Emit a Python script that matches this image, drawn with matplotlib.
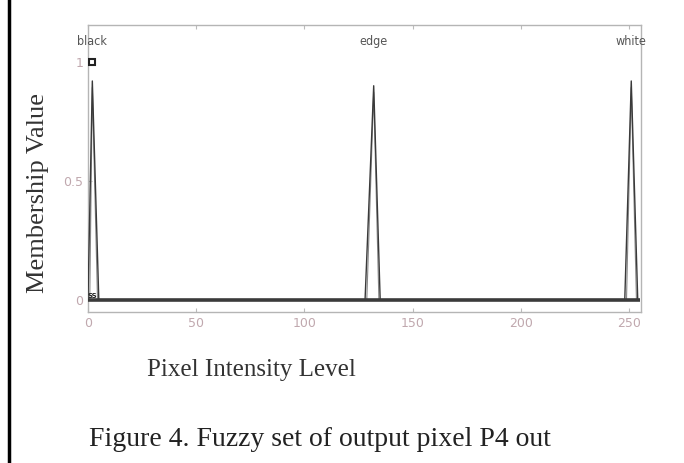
import matplotlib
matplotlib.use("Agg")
import matplotlib.pyplot as plt

# membership functions: name, left foot, peak, right foot, peak height
names = ["black", "edge", "white"]
left_feet = [0, 128, 248]
peaks = [2, 132, 251]
right_feet = [5, 135, 254]
heights = [0.92, 0.90, 0.92]

xticks = [0, 50, 100, 150, 200, 250]
yticks = [0, 0.5, 1]
ytick_labels = ["0", "0.5", "1"]

fig = plt.figure(figsize=(6.84, 4.63), dpi=100)
ax = fig.add_axes([88 / 684, 1 - 312 / 463, (641 - 88) / 684, (312 - 25) / 463])

line_col = "#3a3a3a"
ax.plot([0, 255], [0, 0], color=line_col, lw=2.6, solid_capstyle="butt", zorder=3)
for a, b, c, h in zip(left_feet, peaks, right_feet, heights):
    ax.plot([a, b, c], [0, h, 0], color=line_col, lw=1.0, zorder=3)
    ax.plot([a + 0.8, b, c - 0.6], [0, h * 0.97, 0], color="#888888", lw=0.8, zorder=2)

# names above each set
for n, b in zip(names, peaks):
    ax.text(b, 1.06, n, ha="center", va="bottom", fontsize=9, color="#555555",
            family="DejaVu Sans", stretch="condensed")

# small selection marker of the MATLAB mf editor
ax.plot([2], [1.0], marker="s", ms=5, mfc="white", mec="#222222", mew=1.5, zorder=4)
ax.text(2, 0.005, "SS", ha="center", va="bottom", fontsize=5, color="#222222", weight="bold")

ax.set_xlim(0, 255.5)
ax.set_ylim(-0.05, 1.155)
ax.set_xticks(xticks)
ax.set_yticks(yticks, ytick_labels)
ax.tick_params(axis="both", colors="#bbbbbb", labelcolor="#c0a8ae", labelsize=9,
               direction="in", length=3, top=True, right=False)
for s in ax.spines.values():
    s.set_color("#b5b5b5")
    s.set_linewidth(1.0)

fig.text(38 / 684, 1 - 193 / 463, "Membership Value", family="Liberation Serif", rotation=90,
         fontsize=19, color="#333333", ha="center", va="center")
fig.text(251 / 684, 1 - 370 / 463, "Pixel Intensity Level", family="Liberation Serif",
         fontsize=18, color="#333333", ha="center", va="center")
fig.text(320 / 684, 1 - 440 / 463, "Figure 4. Fuzzy set of output pixel P4 out",
         family="Liberation Serif", fontsize=20, color="#222222", ha="center", va="center")

# black frame line at left edge of the page crop
fig.add_artist(plt.Line2D([9 / 684, 9 / 684], [0, 1], color="black", lw=2.5,
                          transform=fig.transFigure))

fig.savefig("out.png", dpi=100)
